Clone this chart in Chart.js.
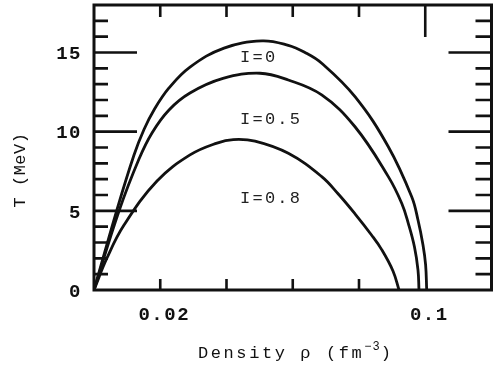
<!DOCTYPE html>
<html>
<head>
<meta charset="utf-8">
<script src="https://cdn.jsdelivr.net/npm/chart.js@4.4.1/dist/chart.umd.min.js"></script>
<style>
html,body{margin:0;padding:0;background:#fff;}
#wrap{width:494px;height:366px;position:relative;}
</style>
</head>
<body>
<div id="wrap"><canvas id="c" width="494" height="366"></canvas></div>
<script>
// ---- data ----
const seriesNames = ['I=0', 'I=0.5', 'I=0.8'];

const densityI0 = [0, 0.00694, 0.01208, 0.01509, 0.01811, 0.02264, 0.02898, 0.03925, 0.05072, 0.05866, 0.0637, 0.06874, 0.07879, 0.08885, 0.09591, 0.09781, 0.09932, 0.10011, 0.10044];
const tempI0    = [0, 5.08,    8.53,    10.14,   11.37,   12.76,   14.08,   15.28,   15.73,   15.45,   15.0,   14.32,   12.21,   9.05,    5.89,    4.42,    2.84,    1.58,    0];

const densityI05 = [0, 0.00755, 0.01358, 0.01751, 0.02264, 0.02898, 0.03894, 0.05011, 0.05866, 0.06874, 0.07879, 0.08885, 0.09289, 0.09488, 0.09675, 0.09781, 0.09811];
const tempI05    = [0, 4.99,    8.27,    9.92,    11.37,   12.44,   13.36,   13.69,   13.26,   12.32,   10.31,   7.16,    5.48,    4.21,    2.72,    1.26,    0];

const densityI08 = [0, 0.00392, 0.00906, 0.01902, 0.02898, 0.03713, 0.04205, 0.0486, 0.05866, 0.06874, 0.07375, 0.07879, 0.08383, 0.08685, 0.09026, 0.09208];
const tempI08    = [0, 2.02,    4.1,     6.88,    8.53,    9.28,    9.5,     9.4,    8.63,    7.16,    6.06,    4.81,    3.46,    2.55,    1.2,     0];

const xTickValues = [0.02, 0.1];
const xTickLabels = ['0.02', '0.1'];
const yTickValues = [0, 5, 10, 15];
const yTickLabels = ['0', '5', '10', '15'];

const curveLabelX = [0.0441, 0.0441, 0.0441];
const curveLabelT = [14.68, 10.8, 5.75];

const xTitleMain = 'Density \u03C1 (fm';
const xTitleSup = '\u22123';
const xTitleEnd = ')';
const yTitle = 'T (MeV)';

// ---- chart ----
const INK = '#111';
function pts(xs, ys){ return xs.map((x,i)=>({x:x, y:ys[i]})); }
function setLS(ctx, v){ try { ctx.letterSpacing = v; } catch(e) {} }

const decor = {
  id: 'decor',
  afterDraw(chart){
    const ctx = chart.ctx;
    const a = chart.chartArea;
    const xs = chart.scales.x, ys = chart.scales.y;
    ctx.save();
    ctx.strokeStyle = INK;
    ctx.lineCap = 'butt';
    // inner ticks
    ctx.lineWidth = 2.6;
    ctx.beginPath();
    for (let v = 1; v <= 17; v++){
      const y = ys.getPixelForValue(v);
      const major = (v % 5 === 0);
      ctx.moveTo(a.left, y); ctx.lineTo(a.left + (major ? 43 : 14), y);
      ctx.moveTo(a.right, y); ctx.lineTo(a.right - (major ? 43 : 16), y);
    }
    [0.02, 0.04, 0.06, 0.08].forEach(v => {
      const x = xs.getPixelForValue(v);
      ctx.moveTo(x, a.top); ctx.lineTo(x, a.top + 12);
      ctx.moveTo(x, a.bottom); ctx.lineTo(x, a.bottom - 11);
    });
    const x01 = xs.getPixelForValue(0.1);
    ctx.moveTo(x01, a.top); ctx.lineTo(x01, a.top + 32);
    ctx.stroke();
    // frame
    ctx.lineWidth = 3;
    ctx.strokeRect(a.left, a.top, a.right - a.left, a.bottom - a.top);

    // tick labels
    ctx.fillStyle = INK;
    ctx.font = 'bold 19px "Liberation Mono"';
    setLS(ctx, '1.5px');
    ctx.textAlign = 'right';
    ctx.textBaseline = 'middle';
    yTickValues.forEach((v, i) => {
      ctx.fillText(yTickLabels[i], a.left - 12, ys.getPixelForValue(v) + 2);
    });
    ctx.textAlign = 'center';
    ctx.textBaseline = 'alphabetic';
    xTickValues.forEach((v, i) => {
      ctx.fillText(xTickLabels[i], xs.getPixelForValue(v) + 4, a.bottom + 30);
    });

    // curve labels
    ctx.fillStyle = '#222';
    ctx.font = '17px "Liberation Mono"';
    setLS(ctx, '2.2px');
    ctx.textAlign = 'left';
    ctx.textBaseline = 'middle';
    seriesNames.forEach((n, i) => {
      ctx.fillText(n, xs.getPixelForValue(curveLabelX[i]), ys.getPixelForValue(curveLabelT[i]));
    });

    // x title
    ctx.fillStyle = INK;
    ctx.textBaseline = 'alphabetic';
    ctx.textAlign = 'left';
    ctx.font = '17px "Liberation Mono"';
    setLS(ctx, '2.6px');
    const w1 = ctx.measureText(xTitleMain).width;
    const w3 = ctx.measureText(xTitleEnd).width;
    ctx.font = '12px "Liberation Mono"';
    setLS(ctx, '1px');
    const w2 = ctx.measureText(xTitleSup).width;
    const cx = (a.left + a.right) / 2 + 3;
    const sx = cx - (w1 + w2 + w3) / 2;
    const base = 358;
    ctx.font = '17px "Liberation Mono"';
    setLS(ctx, '2.6px');
    ctx.fillText(xTitleMain, sx, base);
    ctx.font = '12px "Liberation Mono"';
    setLS(ctx, '1px');
    ctx.fillText(xTitleSup, sx + w1, base - 8);
    ctx.font = '17px "Liberation Mono"';
    setLS(ctx, '2.6px');
    ctx.fillText(xTitleEnd, sx + w1 + w2, base);

    // y title
    ctx.save();
    ctx.translate(20, 170);
    ctx.rotate(-Math.PI / 2);
    ctx.font = '17px "Liberation Mono"';
    setLS(ctx, '0.5px');
    ctx.textAlign = 'center';
    ctx.textBaseline = 'middle';
    ctx.fillText(yTitle, 0, 0);
    ctx.restore();
    ctx.restore();
  }
};

const ds = (d, name) => ({
  label: name,
  data: d,
  borderColor: INK,
  borderWidth: 2.8,
  pointRadius: 0,
  showLine: true,
  fill: false,
  tension: 0.4,
  cubicInterpolationMode: 'default'
});

new Chart(document.getElementById('c'), {
  type: 'scatter',
  data: {
    datasets: [
      ds(pts(densityI0, tempI0), seriesNames[0]),
      ds(pts(densityI05, tempI05), seriesNames[1]),
      ds(pts(densityI08, tempI08), seriesNames[2])
    ]
  },
  options: {
    responsive: false,
    animation: false,
    events: [],
    layout: { padding: { top: 5, right: 2.5, left: 0, bottom: 0 } },
    plugins: { legend: { display: false }, tooltip: { enabled: false }, title: { display: false } },
    scales: {
      x: {
        type: 'linear', min: 0, max: 0.12,
        grid: { display: false, drawTicks: false },
        border: { display: false },
        afterFit: (s) => { s.height = 76; },
        ticks: { display: false }
      },
      y: {
        type: 'linear', min: 0, max: 18,
        grid: { display: false, drawTicks: false },
        border: { display: false },
        afterFit: (s) => { s.width = 94; },
        ticks: { display: false }
      }
    }
  },
  plugins: [decor]
});
</script>
</body>
</html>
